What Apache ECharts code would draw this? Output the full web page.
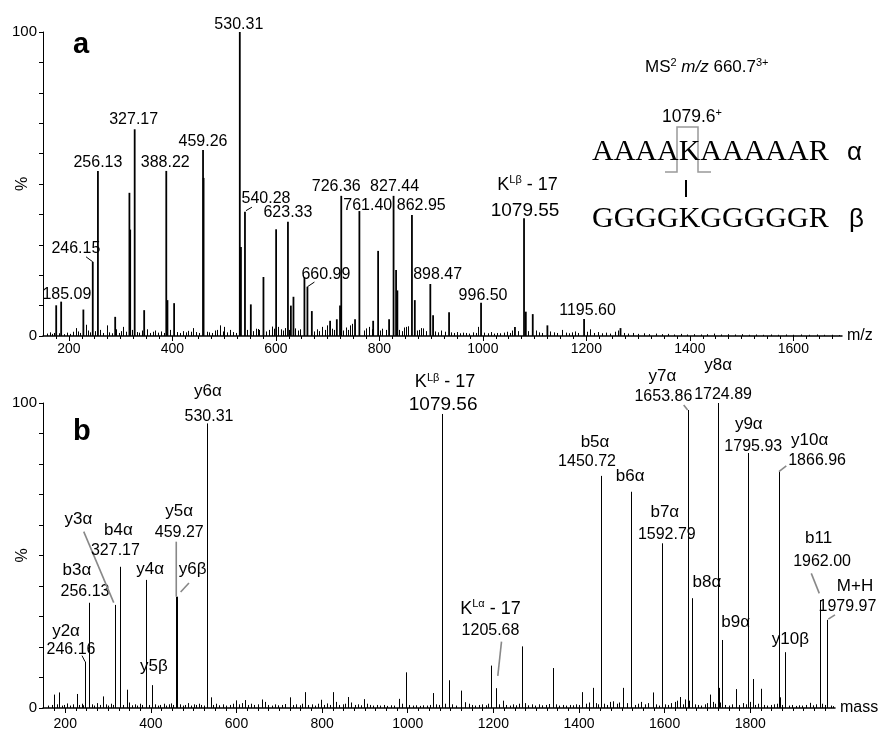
<!DOCTYPE html>
<html>
<head>
<meta charset="utf-8">
<script src="https://cdn.jsdelivr.net/npm/echarts@6/dist/echarts.min.js"></script>
<style>
  html, body { margin: 0; padding: 0; background: #fff; }
  #chart { width: 880px; height: 729px; }
</style>
</head>
<body>
<div id="chart"></div>
<script>
// ---- panel a : MS2 spectrum (m/z) ----
var peaksA_mz  = [175.5, 185.09, 228, 246.15, 256.13, 289.5, 317, 318.5, 327.17, 345.5, 388.22, 390.5, 403.4,
  459.26, 460.3, 530.31, 532.5, 540.28, 551.6, 576, 600.5, 623.33, 629, 634, 655.2, 660.99, 669.5, 704.8,
  717.8, 724, 726.36, 753, 761.40, 788, 797.6, 818.8, 827.44, 832.3, 834.8, 862.95, 868.5, 898.47, 903.8,
  934.7, 996.50, 1062, 1079.55, 1083, 1096.4, 1124.7, 1195.60, 1266];
var peaksA_int = [10.1, 11.3, 8.7, 24.4, 54.3, 6.3, 47.1, 35, 68.0, 8.5, 54.3, 11.8, 10.8,
  61.2, 52, 100, 29.3, 40.9, 10.4, 19.4, 35.1, 37.6, 10, 12.9, 19.4, 16.2, 8.2, 5,
  5.5, 10, 46.1, 5.5, 41.1, 5, 28, 5.5, 46.1, 21.7, 15, 39.8, 11.8, 17.1, 6.8,
  7.8, 10.9, 3, 38.7, 8, 7.2, 3.5, 5.6, 2.6];
var noiseA_mz  = [158, 163, 168, 172, 180, 191, 196, 203, 208, 213, 218, 222, 233, 237, 241, 251, 261, 266, 273, 278,
  283, 292, 297, 301, 305, 310, 322, 331, 336, 341, 351, 357, 362, 367, 373, 378, 383, 395, 409, 415, 420, 426, 431,
  436, 440, 446, 451, 466, 471, 477, 483, 487, 492, 497, 500, 505, 512, 518, 523, 545, 556, 562, 565, 568, 580, 586,
  592, 596, 605, 609, 614, 618, 626, 637, 642, 646, 673, 679, 684, 690, 695, 699, 708, 712, 730, 735, 740, 744, 748,
  770, 775, 780, 785, 802, 806, 812, 838, 843, 848, 852, 855, 872, 877, 880, 884, 890, 908, 914, 920, 926, 938, 944,
  950, 956, 962, 968, 974, 980, 986, 991, 1003, 1009, 1015, 1021, 1028, 1034, 1040, 1046, 1052, 1057, 1068, 1088,
  1102, 1108, 1114, 1130, 1137, 1144, 1152, 1160, 1166, 1172, 1178, 1184, 1202, 1207, 1214, 1222, 1230, 1238, 1246,
  1255, 1262, 1272, 1280, 1290, 1300, 1311, 1322, 1334, 1346, 1358, 1370, 1382, 1395, 1408, 1421, 1434, 1447, 1460,
  1473, 1487, 1500, 1514, 1528, 1542, 1556, 1570, 1585, 1600, 1615, 1630, 1645, 1660, 1675, 1688];
var noiseA_int = [0.8, 1.2, 0.7, 1.0, 0.9, 0.6, 1.1, 0.7, 1.4, 2.6, 1.5, 1.0, 3.7, 1.8, 1.2, 1.6, 2.0, 1.0, 3.5, 1.2,
  0.9, 2.2, 1.0, 1.6, 3.0, 1.4, 2.0, 1.3, 1.1, 1.8, 2.2, 1.0, 1.4, 1.8, 1.1, 1.5, 1.0, 2.0, 1.3, 1.0, 1.6, 1.2, 1.7,
  1.4, 2.6, 1.3, 1.0, 1.4, 1.2, 1.0, 1.8, 2.0, 3.5, 1.5, 3.0, 1.2, 2.0, 1.3, 1.0, 2.0, 1.6, 2.4, 2.3, 2.0, 1.5, 2.0,
  3.1, 2.4, 3.0, 2.2, 1.8, 2.6, 2.0, 2.5, 1.8, 2.2, 1.5, 2.2, 1.6, 3.0, 2.0, 3.5, 2.4, 2.0, 1.8, 2.8, 2.0, 3.5, 4.0,
  1.8, 2.5, 3.0, 2.2, 1.8, 2.4, 2.0, 2.0, 1.6, 2.8, 3.0, 3.2, 1.8, 2.0, 2.6, 2.5, 1.6, 1.5, 1.2, 1.8, 1.4, 1.2, 1.0,
  1.3, 0.9, 1.1, 1.0, 0.8, 1.2, 1.0, 3.0, 1.1, 0.9, 1.3, 0.8, 1.0, 0.9, 1.1, 1.4, 1.0, 1.8, 1.6, 1.6,
  1.8, 1.2, 1.0, 1.5, 1.2, 1.0, 2.0, 1.1, 0.9, 1.2, 1.5, 1.0, 1.4, 2.2, 1.0, 1.3, 0.9, 1.1, 0.8,
  1.4, 1.8, 1.0, 0.8, 1.0, 0.7, 0.9, 0.6, 0.8, 0.6, 0.7, 0.5, 0.7, 0.5, 0.6, 0.5, 0.6, 0.8, 0.5,
  0.6, 0.5, 0.6, 0.4, 0.5, 0.4, 0.5, 0.4, 0.5, 0.4, 0.5, 0.4, 0.5, 0.4, 0.4, 0.3];
var labelsA_text = ['185.09', '246.15', '256.13', '327.17', '388.22', '459.26', '530.31', '540.28', '623.33',
  '660.99', '726.36', '761.40', '827.44', '862.95', '898.47', '996.50', '1079.55', '{k|K}{s|Lβ}{k| - 17}', '1195.60'];
var labelsA_mz  = [185.09, 246.15, 256.13, 327.17, 388.22, 459.26, 530.31, 540.28, 623.33,
  660.99, 726.36, 761.40, 827.44, 862.95, 898.47, 996.50, 1079.55, 1079.55, 1195.60];
var labelsA_int = [11.3, 24.4, 54.3, 68.0, 54.3, 61.2, 100, 40.9, 37.6,
  16.2, 46.1, 41.1, 46.1, 39.8, 17.1, 10.9, 38.7, 38.7, 5.6];
var ticksA = [200, 400, 600, 800, 1000, 1200, 1400, 1600];

// ---- panel b : deconvoluted spectrum (mass) ----
var peaksB_mz  = [174.4, 185.3, 226.6, 246.16, 256.13, 288.8, 317.2, 327.17, 343.4, 388.2, 403.2, 459.27, 460.2,
  530.31, 539.6, 598.7, 619.8, 658.8, 725, 760.6, 796.6, 826, 861, 897.7, 979.5, 995.9, 1059.7, 1079.56, 1080.6,
  1096, 1123.6, 1133.7, 1195, 1205.68, 1223, 1266, 1338.5, 1407.7, 1432, 1450.72, 1480, 1503.5, 1521.8, 1573.5,
  1592.79, 1636, 1653.86, 1663.8, 1706, 1724.89, 1726, 1734.9, 1766, 1795.93, 1805.7, 1824.4, 1866.96, 1869.5,
  1881, 1939.5, 1962.00, 1979.97];
var peaksB_int = [4.4, 5.1, 4.6, 15.2, 34.5, 3.8, 33.8, 46.3, 6.0, 42.0, 7.5, 36.5, 36.5,
  93.3, 3.5, 2.5, 2.6, 2.8, 3.5, 5.2, 2.7, 5.2, 3.6, 2.9, 3.0, 11.7, 4.9, 96.4, 6.0,
  9.1, 5.7, 1.9, 13.9, 6.5, 2.4, 20.2, 13.1, 5.2, 6.6, 76.1, 2.2, 6.6, 70.9, 5.1,
  54.0, 3.6, 97.7, 36.0, 4.4, 100, 6.6, 22.3, 6.2, 83.6, 9.5, 6.3, 77.5, 3.5,
  18.3, 1.7, 35.4, 28.9];
var noiseB_mz  = [160, 168, 180, 192, 198, 205, 212, 218, 232, 238, 242, 262, 268, 274, 280, 295, 300, 306, 312, 335,
  349, 356, 362, 368, 374, 380, 395, 410, 416, 422, 430, 436, 442, 448, 452, 468, 474, 480, 487, 493, 500, 506, 512,
  518, 524, 546, 552, 560, 568, 576, 584, 592, 605, 612, 626, 634, 642, 650, 666, 674, 682, 690, 698, 706, 714, 732,
  740, 748, 754, 768, 776, 784, 790, 804, 812, 818, 832, 840, 848, 854, 868, 876, 884, 890, 904, 912, 920, 928, 936,
  944, 952, 960, 968, 986, 1004, 1012, 1020, 1028, 1036, 1044, 1052, 1066, 1072, 1088, 1104, 1112, 1142, 1150, 1158,
  1166, 1174, 1182, 1188, 1212, 1230, 1238, 1246, 1254, 1260, 1274, 1282, 1290, 1298, 1306, 1314, 1322, 1330, 1346,
  1354, 1362, 1370, 1378, 1386, 1394, 1400, 1416, 1424, 1440, 1444, 1458, 1466, 1472, 1488, 1494, 1512, 1530, 1538,
  1546, 1554, 1562, 1580, 1588, 1600, 1608, 1616, 1624, 1630, 1642, 1648, 1658, 1670, 1678, 1686, 1694, 1700, 1712,
  1718, 1730, 1742, 1750, 1758, 1774, 1782, 1790, 1800, 1812, 1818, 1832, 1840, 1848, 1856, 1862, 1874, 1890, 1898,
  1906, 1914, 1922, 1930, 1946, 1954, 1968, 1974, 1988, 1994];
var noiseB_int = [0.8, 1.0, 1.2, 0.8, 1.0, 1.5, 0.8, 1.2, 1.0, 1.4, 0.9, 1.2, 0.8, 1.6, 1.0, 1.2, 0.8, 1.4, 1.0, 1.0,
  1.8, 0.9, 1.2, 0.8, 1.4, 1.0, 1.0, 1.2, 0.8, 1.0, 1.4, 0.8, 1.2, 1.5, 1.0, 1.2, 0.8, 1.0, 1.6, 0.8, 1.2, 1.0, 1.4,
  1.0, 0.8, 1.0, 1.4, 0.9, 1.2, 0.8, 1.0, 1.4, 1.2, 1.6, 1.0, 1.4, 1.0, 1.2, 2.0, 1.0, 0.8, 1.2, 0.9, 1.0, 1.3, 1.0,
  1.2, 0.9, 1.4, 1.0, 1.2, 0.8, 1.4, 1.0, 1.5, 1.0, 2.0, 1.0, 1.2, 1.4, 1.8, 1.0, 1.2, 0.9, 1.4, 1.0, 0.8, 1.0, 0.8,
  1.0, 0.7, 0.9, 0.8, 1.4, 1.0, 0.8, 0.9, 0.7, 0.9, 0.8, 1.0, 1.2, 1.0, 1.4, 1.2, 0.8, 1.4, 1.0, 0.8,
  1.0, 1.2, 0.9, 1.4, 1.2, 1.0, 0.8, 1.2, 0.9, 1.4, 1.6, 0.9, 1.2, 0.8, 1.2, 0.9, 1.0, 1.3, 1.2,
  0.8, 1.0, 0.8, 1.0, 0.9, 1.2, 1.0, 1.4, 1.8, 1.6, 1.2, 1.4, 1.0, 2.0, 1.4, 1.8, 1.6, 1.0, 1.4,
  2.0, 1.2, 1.6, 1.2, 0.8, 1.2, 1.0, 1.6, 2.0, 2.4, 1.2, 2.8, 2.4, 1.2, 1.0, 0.8, 1.2, 1.6, 2.0,
  1.4, 1.8, 1.0, 0.8, 1.2, 1.0, 1.6, 1.2, 2.0, 1.0, 1.4, 1.0, 0.8, 1.0, 1.2, 1.4, 1.0, 0.8, 1.0,
  0.7, 0.9, 0.8, 1.0, 0.9, 1.2, 1.4, 1.0, 0.8, 0.6];
var labelsB_text = ['y2α', '246.16', 'b3α', '256.13', 'y3α', 'b4α', '327.17', 'y4α', 'y5β', 'y5α', '459.27', 'y6β',
  'y6α', '530.31', '{k|K}{s|Lβ}{k| - 17}', '1079.56', '{k|K}{s|Lα}{k| - 17}', '1205.68', 'b5α', '1450.72', 'b6α',
  'b7α', '1592.79', 'y7α', '1653.86', 'b8α', 'y8α', '1724.89', 'b9α', 'y9α', '1795.93', 'y10α', '1866.96',
  'y10β', 'b11', '1962.00', 'M+H', '1979.97'];
var labelsB_mz  = [246.16, 246.16, 256.13, 256.13, 317.2, 327.17, 327.17, 388.2, 403.2, 459.27, 459.27, 460.2,
  530.31, 530.31, 1079.56, 1079.56, 1205.68, 1205.68, 1450.72, 1450.72, 1521.8,
  1592.79, 1592.79, 1653.86, 1653.86, 1663.8, 1724.89, 1724.89, 1734.9, 1795.93, 1795.93, 1866.96, 1866.96,
  1881, 1962.00, 1962.00, 1979.97, 1979.97];
var labelsB_int = [15.2, 15.2, 34.5, 34.5, 33.8, 46.3, 46.3, 42.0, 7.5, 36.5, 36.5, 36.5,
  93.3, 93.3, 96.4, 96.4, 6.5, 6.5, 76.1, 76.1, 70.9,
  54.0, 54.0, 97.7, 97.7, 36.0, 100, 100, 22.3, 83.6, 83.6, 77.5, 77.5,
  18.3, 35.4, 35.4, 28.9, 28.9];
var ticksB = [200, 400, 600, 800, 1000, 1200, 1400, 1600, 1800];

// label layout (pixel offsets from the peak top), kept apart from the data
var layoutA = {
  dx:   [5.7, -16.9, 0, -1, -1, 0, -1, 21, 0, 18.5, -5, 8.4, 1, 9.3, 7.3, 2, 1, 3.5, 3.5],
  dy:   [-7.5, -13.2, -8.5, -9.3, -8.5, -8.7, -7.7, -12.7, -9.2, -12.5, -8.8, -5.8, -8.8, -9.8, -9, -7.2, -7.6, -33.8, -8.2],
  size: [16, 16, 16, 16, 16, 16, 16, 16, 16, 16, 16, 16, 16, 16, 16, 16, 19, 18, 16],
  leader: {1: [-6.7, -5, 0, 0, '#000'], 7: [1, -1, 7, -4.5, '#000'], 9: [0, 0, 7, -4.7, '#000']}
};
var layoutB = {
  dx:   [-19, -14, -12.3, -4.3, -37, -1.3, -4.3, 4.3, 1.7, 3, 3, 16,
         1.3, 2.3, 3.3, 1.3, -5.3, -5.3, -5.7, -13.7, -1,
         3.3, 5.3, -25.3, -24.3, 15, 0, 5, 13.3, 0.3, 4.8, 30.7, 38.2,
         5.5, -1, 2.5, 27.7, 20.2],
  dy:   [-30.6, -12.3, -32.6, -11.3, -85.6, -36.3, -16.3, -10.6, -18.9, -85.6, -64, -27.3,
         -32.2, -7.2, -31.7, -9, -79.3, -57.9, -33.3, -14.3, -15.6,
         -30.6, -8.9, -33.9, -13.9, -16.2, -37.6, -8.3, -17.3, -28.6, -6.9, -31.3, -11.3,
         -12.9, -61.3, -38.9, -33.9, -12.9],
  size: [17, 16, 17, 16, 17, 17, 16, 17, 17, 17, 16, 17,
         17, 16, 18, 19, 18, 16, 17, 16, 17,
         17, 16, 17, 16, 17, 17, 16, 17, 17, 16, 17, 16,
         17, 17, 16, 17, 16],
  leader: {
    1: [-3, -6, 0, 0, '#000'], 4: [-31.7, -73.3, -1.7, -2.3, '#888'], 10: [0, -55, 0, 0, '#888'],
    11: [4, -4.7, 12.3, -13.7, '#888'], 17: [5.7, -46.6, 2, -12.3, '#888'], 24: [-4, -5, 0, 0, '#888'],
    32: [0, 0, 7.4, -5.7, '#888'], 35: [-8.3, -26.7, -0.3, -6.7, '#888'], 37: [1, -0.7, 7.7, -5, '#888']
  }
};

var FONT = '"Liberation Sans", Arial, sans-serif';

function pairs(xs, ys) {
  return xs.map(function (x, i) { return [x, ys[i]]; });
}

// one vertical stick per peak, drawn from the axis scales
function stickRender(width, snap) {
  return function (params, api) {
    var p0 = api.coord([api.value(0), 0]);
    var p1 = api.coord([api.value(0), api.value(1)]);
    var x = snap ? Math.round(p0[0]) + 0.5 : p0[0];
    return {
      type: 'line',
      shape: { x1: x, y1: p0[1], x2: x, y2: p1[1] },
      style: { stroke: '#000', lineWidth: width }
    };
  };
}

function labelRender(texts, layout) {
  return function (params, api) {
    var i = params.dataIndex;
    var p = api.coord([api.value(0), api.value(1)]);
    var fs = layout.size[i];
    var kids = [];
    var ld = layout.leader[i];
    if (ld) {
      kids.push({
        type: 'line',
        shape: { x1: p[0] + ld[0], y1: p[1] + ld[1], x2: p[0] + ld[2], y2: p[1] + ld[3] },
        style: { stroke: ld[4], lineWidth: ld[4] === '#000' ? 1 : 1.6 }
      });
    }
    kids.push({
      type: 'text',
      style: {
        text: texts[i],
        x: p[0] + layout.dx[i],
        y: p[1] + layout.dy[i],
        fill: '#000',
        font: fs + 'px ' + FONT,
        align: 'center', verticalAlign: 'middle',
        textAlign: 'center', textVerticalAlign: 'middle',
        rich: {
          k: { fontSize: fs, fontFamily: FONT, color: '#000', lineHeight: fs + 2 },
          s: { fontSize: 11, fontFamily: FONT, color: '#000', verticalAlign: 'top', lineHeight: 11 }
        }
      }
    });
    return { type: 'group', children: kids };
  };
}

function minorTicks(lo, hi) {
  var v = [];
  for (var t = lo; t <= hi; t += 25) v.push(t);
  return v;
}

function xAxes(grid, min, max, ticks, name, labelMargin) {
  return [{
    gridIndex: grid, type: 'value', min: min, max: max,
    axisLine: { lineStyle: { color: '#000', width: 1.5 } },
    axisTick: { length: 5, lineStyle: { color: '#000' }, customValues: ticks },
    axisLabel: {
      customValues: ticks, color: '#000', fontSize: 14, fontFamily: FONT, margin: labelMargin,
      formatter: function (v) { return String(v); }
    },
    splitLine: { show: false },
    name: name, nameLocation: 'end', nameGap: 5, nameMoveOverlap: false,
    nameTextStyle: { color: '#000', fontSize: 16, fontFamily: FONT, verticalAlign: 'middle' }
  }, {
    gridIndex: grid, type: 'value', min: min, max: max, position: 'bottom',
    axisLine: { show: false },
    axisTick: { length: 3, lineStyle: { color: '#000' }, customValues: minorTicks(175, max) },
    axisLabel: { show: false },
    splitLine: { show: false }
  }];
}

function yAxis(grid) {
  return {
    gridIndex: grid, type: 'value', min: 0, max: 100, interval: 10,
    axisLine: { show: true, lineStyle: { color: '#000', width: 1 } },
    axisTick: { show: true, length: 4, lineStyle: { color: '#000' } },
    axisLabel: {
      color: '#000', fontSize: 15, fontFamily: FONT, margin: 6,
      formatter: function (v) { return (v === 0 || v === 100) ? String(v) : ''; }
    },
    splitLine: { show: false },
    name: '%', nameLocation: 'middle', nameGap: 12, nameRotate: 90, nameMoveOverlap: false,
    nameTextStyle: { color: '#000', fontSize: 16, fontFamily: FONT }
  };
}

var chart = echarts.init(document.getElementById('chart'), null, { renderer: 'canvas' });

chart.setOption({
  backgroundColor: '#fff',
  animation: false,
  grid: [
    { left: 43, top: 32, width: 799, height: 304, outerBoundsMode: 'none', containLabel: false },
    { left: 43, top: 403, width: 792, height: 305, outerBoundsMode: 'none', containLabel: false }
  ],
  xAxis: xAxes(0, 150, 1694, ticksA, 'm/z', 6).concat(xAxes(1, 148, 1998, ticksB, 'mass', 9)),
  yAxis: [yAxis(0), yAxis(1)],
  series: [
    { type: 'custom', xAxisIndex: 0, yAxisIndex: 0, renderItem: stickRender(1, true), data: pairs(noiseA_mz, noiseA_int) },
    { type: 'custom', xAxisIndex: 0, yAxisIndex: 0, renderItem: stickRender(1.8, false), data: pairs(peaksA_mz, peaksA_int) },
    { type: 'custom', xAxisIndex: 0, yAxisIndex: 0, renderItem: labelRender(labelsA_text, layoutA), clip: false, data: pairs(labelsA_mz, labelsA_int) },
    { type: 'custom', xAxisIndex: 2, yAxisIndex: 1, renderItem: stickRender(1, true), data: pairs(noiseB_mz, noiseB_int) },
    { type: 'custom', xAxisIndex: 2, yAxisIndex: 1, renderItem: stickRender(1, true), data: pairs(peaksB_mz, peaksB_int) },
    { type: 'custom', xAxisIndex: 2, yAxisIndex: 1, renderItem: labelRender(labelsB_text, layoutB), clip: false, data: pairs(labelsB_mz, labelsB_int) }
  ],
  graphic: [
    { type: 'text', x: 73, y: 45, style: { text: 'a', font: 'bold 29px ' + FONT, fill: '#000', verticalAlign: 'middle', textVerticalAlign: 'middle' } },
    { type: 'text', x: 73, y: 432, style: { text: 'b', font: 'bold 29px ' + FONT, fill: '#000', verticalAlign: 'middle', textVerticalAlign: 'middle' } },
    { type: 'text', x: 645, y: 67, style: {
        text: '{n|MS}{s|2}{n| }{i|m/z}{n| 660.7}{s|3+}', verticalAlign: 'middle', textVerticalAlign: 'middle',
        rich: {
          n: { fontSize: 17, fontFamily: FONT, color: '#000', lineHeight: 19 },
          i: { fontSize: 17, fontFamily: FONT, fontStyle: 'italic', color: '#000', lineHeight: 19 },
          s: { fontSize: 11, fontFamily: FONT, color: '#000', verticalAlign: 'top', lineHeight: 11 }
        } } },
    { type: 'text', x: 662, y: 117, style: {
        text: '{n|1079.6}{s|+}', verticalAlign: 'middle', textVerticalAlign: 'middle',
        rich: {
          n: { fontSize: 17.5, fontFamily: FONT, color: '#000', lineHeight: 19 },
          s: { fontSize: 11, fontFamily: FONT, color: '#000', verticalAlign: 'top', lineHeight: 11 }
        } } },
    { type: 'polyline', shape: { points: [[665, 172], [677, 172], [677, 127], [698, 127], [698, 172], [711, 172]] },
      style: { stroke: '#999', lineWidth: 1.5, fill: null } },
    { type: 'text', x: 592, y: 152.5, style: { text: 'AAAAKAAAAAR', font: '30px "Liberation Serif", serif', fill: '#000', verticalAlign: 'middle', textVerticalAlign: 'middle' } },
    { type: 'text', x: 847, y: 153, style: { text: 'α', font: '26px ' + FONT, fill: '#000', verticalAlign: 'middle', textVerticalAlign: 'middle' } },
    { type: 'line', shape: { x1: 686, y1: 180, x2: 686, y2: 197 }, style: { stroke: '#000', lineWidth: 2 } },
    { type: 'text', x: 592, y: 219.5, style: { text: 'GGGGKGGGGGR', font: '30px "Liberation Serif", serif', fill: '#000', verticalAlign: 'middle', textVerticalAlign: 'middle' } },
    { type: 'text', x: 849, y: 220, style: { text: 'β', font: '26px ' + FONT, fill: '#000', verticalAlign: 'middle', textVerticalAlign: 'middle' } }
  ]
});
</script>
</body>
</html>
